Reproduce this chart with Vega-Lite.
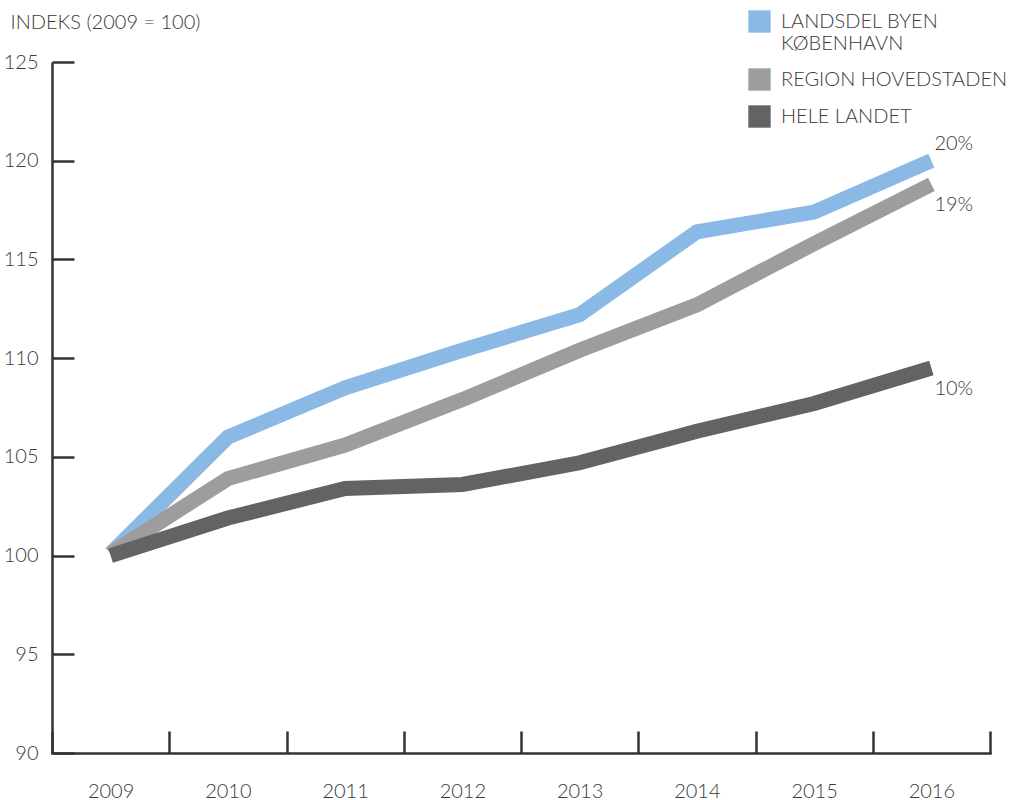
{
  "$schema": "https://vega.github.io/schema/vega-lite/v6.json",
  "width": 938,
  "height": 691,
  "autosize": "none",
  "padding": {"left": 52, "top": 62, "right": 33, "bottom": 47},
  "background": "white",
  "config": {
    "view": {"stroke": null},
    "font": "Lato",
    "axis": {"grid": false, "domainColor": "#333333", "domainWidth": 2.5, "tickColor": "#333333", "tickWidth": 2.5, "labelFont": "Lato", "labelFontSize": 20, "labelColor": "#3a3a3a", "labelFontWeight": 300}
  },
  "datasets": {
    "d": [
      {"year": "2009", "series": "LANDSDEL BYEN KØBENHAVN", "value": 100.1},
      {"year": "2010", "series": "LANDSDEL BYEN KØBENHAVN", "value": 106.0},
      {"year": "2011", "series": "LANDSDEL BYEN KØBENHAVN", "value": 108.5},
      {"year": "2012", "series": "LANDSDEL BYEN KØBENHAVN", "value": 110.4},
      {"year": "2013", "series": "LANDSDEL BYEN KØBENHAVN", "value": 112.2},
      {"year": "2014", "series": "LANDSDEL BYEN KØBENHAVN", "value": 116.4},
      {"year": "2015", "series": "LANDSDEL BYEN KØBENHAVN", "value": 117.4},
      {"year": "2016", "series": "LANDSDEL BYEN KØBENHAVN", "value": 120.0},
      {"year": "2009", "series": "REGION HOVEDSTADEN", "value": 100.1},
      {"year": "2010", "series": "REGION HOVEDSTADEN", "value": 103.9},
      {"year": "2011", "series": "REGION HOVEDSTADEN", "value": 105.6},
      {"year": "2012", "series": "REGION HOVEDSTADEN", "value": 107.9},
      {"year": "2013", "series": "REGION HOVEDSTADEN", "value": 110.4},
      {"year": "2014", "series": "REGION HOVEDSTADEN", "value": 112.7},
      {"year": "2015", "series": "REGION HOVEDSTADEN", "value": 115.8},
      {"year": "2016", "series": "REGION HOVEDSTADEN", "value": 118.8},
      {"year": "2009", "series": "HELE LANDET", "value": 100.0},
      {"year": "2010", "series": "HELE LANDET", "value": 101.9},
      {"year": "2011", "series": "HELE LANDET", "value": 103.4},
      {"year": "2012", "series": "HELE LANDET", "value": 103.6},
      {"year": "2013", "series": "HELE LANDET", "value": 104.7},
      {"year": "2014", "series": "HELE LANDET", "value": 106.3},
      {"year": "2015", "series": "HELE LANDET", "value": 107.7},
      {"year": "2016", "series": "HELE LANDET", "value": 109.5}
    ],
    "labels": [
      {"year": "2016", "series": "LANDSDEL BYEN KØBENHAVN", "value": 120.0, "label": "20%"},
      {"year": "2016", "series": "REGION HOVEDSTADEN", "value": 118.8, "label": "19%"},
      {"year": "2016", "series": "HELE LANDET", "value": 109.5, "label": "10%"}
    ]
  },
  "encoding": {
    "x": {
      "field": "year", "type": "ordinal",
      "scale": {"type": "band", "paddingInner": 0, "paddingOuter": 0},
      "axis": {"title": null, "labelAngle": 0, "tickBand": "extent", "tickSize": -22, "labelPadding": 50, "domainCap": "square"}
    },
    "y": {
      "field": "value", "type": "quantitative",
      "scale": {"domain": [90, 125], "nice": false, "zero": false},
      "axis": {"values": [90, 95, 100, 105, 110, 115, 120, 125], "tickSize": -22, "labelPadding": 36, "title": "INDEKS (2009 = 100)", "titleAngle": 0, "titleAlign": "left", "titleBaseline": "middle", "titleX": -42, "titleY": -40, "titleFont": "Lato", "titleFontSize": 20, "titleFontWeight": 300, "titleColor": "#3a3a3a"}
    }
  },
  "layer": [
    {
      "data": {"name": "d"},
      "mark": {"type": "line", "strokeWidth": 15, "strokeCap": "butt", "strokeJoin": "miter"},
      "encoding": {
        "color": {
          "field": "series", "type": "nominal",
          "scale": {"domain": ["LANDSDEL BYEN KØBENHAVN", "REGION HOVEDSTADEN", "HELE LANDET"], "range": ["#8ab9e5", "#9d9d9d", "#636363"]},
          "sort": null,
          "legend": {
            "title": null, "orient": "none", "legendX": 696, "legendY": -52,
            "symbolType": "square", "symbolSize": 500, "symbolStrokeWidth": 0,
            "labelFont": "Lato", "labelFontSize": 20, "labelFontWeight": 300, "labelColor": "#3a3a3a", "labelOffset": 10, "labelLimit": 400,
            "rowPadding": 14,
            "labelExpr": "datum.label == 'LANDSDEL BYEN KØBENHAVN' ? ['LANDSDEL BYEN', 'KØBENHAVN'] : datum.label",
            "encode": {"symbols": {"update": {"fill": {"scale": "color", "field": "value"}, "strokeWidth": {"value": 0}}}}
          }
        },
        "order": {"field": "year"}
      }
    },
    {
      "data": {"name": "labels"},
      "transform": [{"filter": "datum.series == 'LANDSDEL BYEN KØBENHAVN'"}],
      "mark": {"type": "text", "align": "left", "dx": 3, "dy": -17, "fontSize": 20, "font": "Lato", "fontWeight": 300, "color": "#3a3a3a"},
      "encoding": {"text": {"field": "label"}}
    },
    {
      "data": {"name": "labels"},
      "transform": [{"filter": "datum.series != 'LANDSDEL BYEN KØBENHAVN'"}],
      "mark": {"type": "text", "align": "left", "dx": 3, "dy": 21, "fontSize": 20, "font": "Lato", "fontWeight": 300, "color": "#3a3a3a"},
      "encoding": {"text": {"field": "label"}}
    }
  ]
}
